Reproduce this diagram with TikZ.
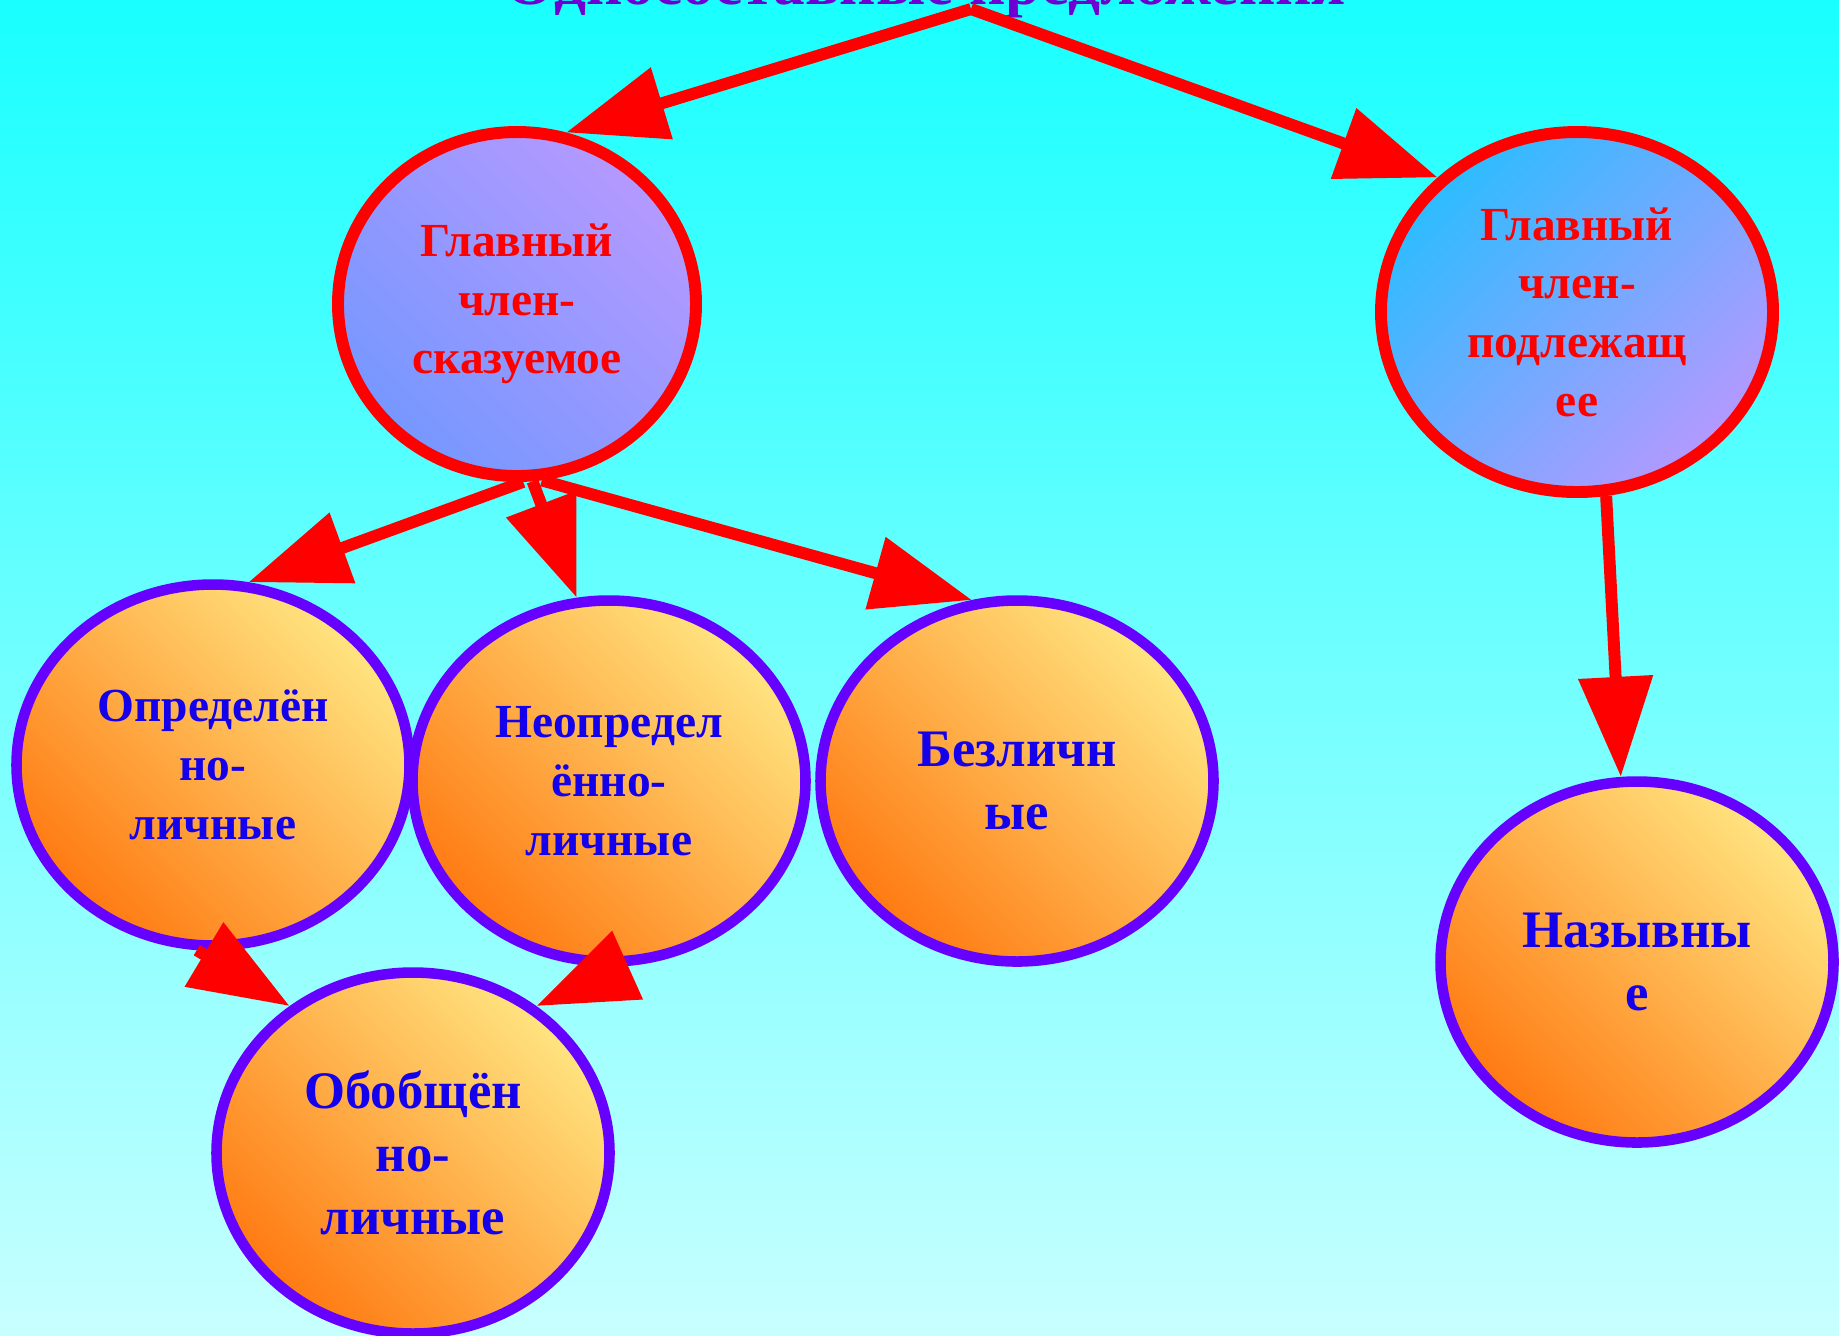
\documentclass[tikz,border=0pt]{standalone}
\usepackage{fontspec}
\setmainfont{Liberation Serif}
\usetikzlibrary{shapes.geometric,arrows.meta}

\definecolor{bgtop}{RGB}{25,255,255}
\definecolor{bgbot}{RGB}{200,255,255}
\definecolor{titlepurple}{RGB}{110,0,210}
\definecolor{rimpurple}{RGB}{102,0,255}
\definecolor{textblue}{RGB}{20,0,235}
\definecolor{lilac}{RGB}{180,153,255}
\definecolor{cornflower}{RGB}{118,152,255}
\definecolor{skyblue}{RGB}{45,188,255}
\definecolor{paleyellow}{RGB}{255,228,128}
\definecolor{deeporange}{RGB}{255,122,18}

\tikzset{
  oval/.style={ellipse, align=center, inner sep=0pt},
  mainoval/.style={oval, draw=red, line width=3.4pt, minimum width=3.58cm, minimum height=3.44cm,
    text=red, font=\fontsize{13.5}{16.7}\selectfont\bfseries},
  kindoval/.style={oval, draw=rimpurple, line width=3pt, minimum width=3.93cm, minimum height=3.61cm,
    text=textblue, top color=paleyellow, bottom color=deeporange, shading angle=-45},
  smalltext/.style={font=\fontsize{13.5}{16.7}\selectfont\bfseries},
  bigtext/.style={font=\fontsize{15}{18}\selectfont\bfseries},
  arr/.style={draw=red, line width=3.4pt, -{Triangle[length=10mm,width=7.2mm]}}
}

\begin{document}
\begin{tikzpicture}

  \useasboundingbox (0,0) rectangle (18.39,-13.35);
  \clip (0,0) rectangle (18.39,-13.35);

  % background
  \shade[top color=bgtop, bottom color=bgbot] (0,0) rectangle (18.39,-13.35);

  % title, cut by the top edge
  \node[font=\fontsize{18}{22}\selectfont\bfseries, text=titlepurple, anchor=base] (title) at (9.26,-0.04) {Односоставные предложения};
  \coordinate (root) at (9.71,-0.09);

  % main members
  \node[mainoval, top color=lilac, bottom color=cornflower, shading angle=-45] (skaz) at (5.17,-3.04) {Главный\\член-\\сказуемое};
  \node[mainoval, minimum width=3.92cm, minimum height=3.60cm, top color=skyblue, bottom color=lilac, shading angle=45] (podl) at (15.77,-3.12) {Главный\\член-\\подлежащ\\ее};

  % kinds of sentences
  \node[kindoval, smalltext] (opred) at (2.13,-7.65) {Определён\\но-\\личные};
  \node[kindoval, smalltext] (neopr) at (6.09,-7.81) {Неопредел\\ённо-\\личные};
  \node[kindoval, bigtext] (bezl) at (10.17,-7.81) {Безличн\\ые};
  \node[kindoval, bigtext] (nazyv) at (16.37,-9.62) {Назывны\\е};
  \node[kindoval, bigtext] (obobsh) at (4.13,-11.53) {Обобщён\\но-\\личные};

  % arrows
  \foreach \a/\b in {root/skaz.74, root/podl.136, skaz.-88/opred.79, skaz.-85/neopr.100,
                     skaz.-82/bezl.104, podl.-81/nazyv.95, opred.-95/obobsh.130, neopr.-85/obobsh.50}
    \draw[arr] (\a) -- (\b);

\end{tikzpicture}
\end{document}
